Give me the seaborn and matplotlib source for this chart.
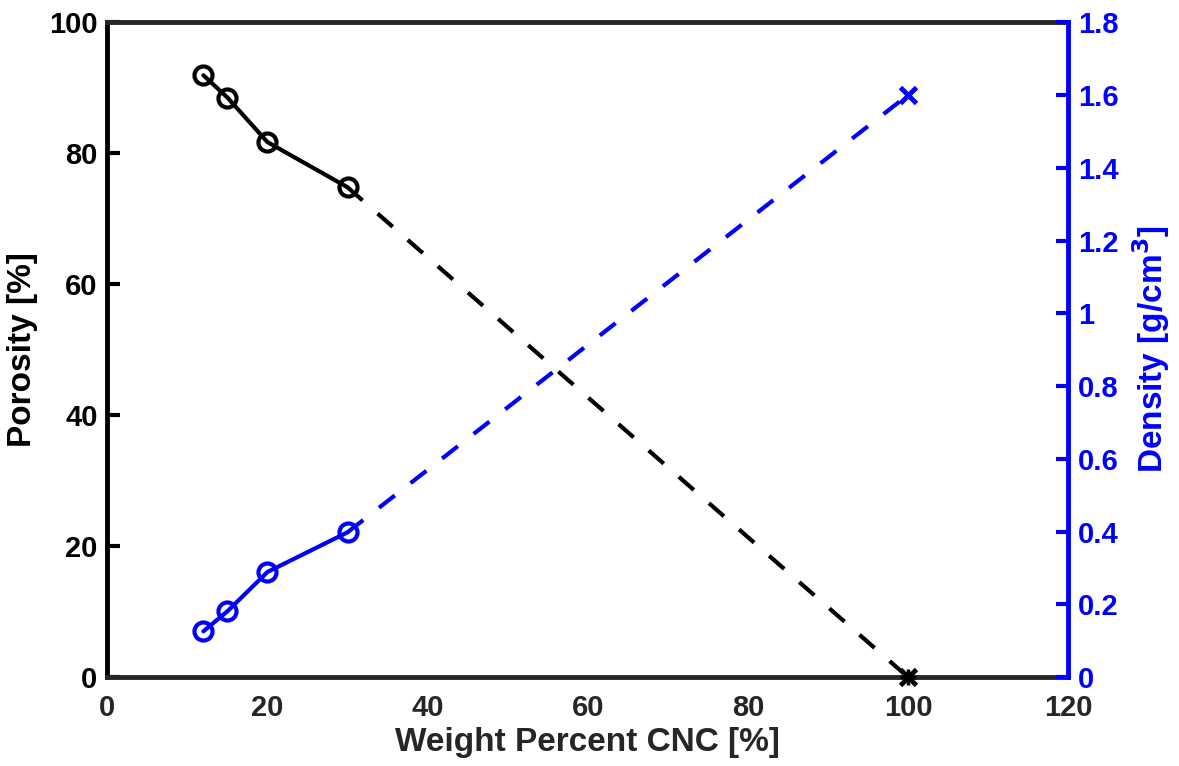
import matplotlib
matplotlib.use("Agg")
import matplotlib.pyplot as plt
import seaborn as sns
import pandas as pd

sns.set_style("white")
plt.rcParams['font.family'] = ['Liberation Sans', 'DejaVu Sans']
plt.rcParams['font.weight'] = 'bold'

# measured points
wt_cnc = [12, 15, 20, 30]
porosity = [91.9, 88.5, 81.7, 74.8]
density = [0.126, 0.181, 0.289, 0.398]

# pure CNC extrapolation
wt_pure = [30, 100]
porosity_pure = [74.8, 0]
density_pure = [0.398, 1.6]

x_ticks = [0, 20, 40, 60, 80, 100, 120]
left_ticks = [0, 20, 40, 60, 80, 100]
right_ticks = [0, 0.2, 0.4, 0.6, 0.8, 1, 1.2, 1.4, 1.6, 1.8]

BLUE = '#0000ff'
GRAY = '#262626'
LW = 3
DASH = (4.8, 4.8)

df = pd.DataFrame({'wt': wt_cnc, 'porosity': porosity, 'density': density})
df_pure = pd.DataFrame({'wt': wt_pure, 'porosity': porosity_pure,
                        'density': density_pure})

fig = plt.figure(figsize=(11.79, 7.66), dpi=100)
ax = fig.add_axes([0.091, 0.116, 0.815, 0.855])
ax2 = ax.twinx()

# porosity (left axis)
sns.lineplot(data=df_pure, x='wt', y='porosity', ax=ax, color='black',
             lw=LW, linestyle=(0, DASH))
sns.lineplot(data=df, x='wt', y='porosity', ax=ax, color='black', lw=LW,
             marker='o', markersize=13, markerfacecolor='none',
             markeredgecolor='black', markeredgewidth=3)
ax.plot([100], [0], marker='x', color='black', markersize=11,
        markeredgewidth=3.5, clip_on=False, zorder=5)
ax.plot([100], [0], marker='+', color='black', markersize=11,
        markeredgewidth=2.5, clip_on=False, zorder=5)

# density (right axis)
sns.lineplot(data=df_pure, x='wt', y='density', ax=ax2, color=BLUE,
             lw=LW, linestyle=(0, DASH))
sns.lineplot(data=df, x='wt', y='density', ax=ax2, color=BLUE, lw=LW,
             marker='o', markersize=13, markerfacecolor='none',
             markeredgecolor=BLUE, markeredgewidth=3)
ax2.plot([100], [1.6], marker='x', color=BLUE, markersize=12,
         markeredgewidth=3.5, zorder=5)

ax.set_xlim(0, 120)
ax.set_ylim(0, 100)
ax2.set_ylim(0, 1.8)
ax.set_xticks(x_ticks)
ax.set_yticks(left_ticks)
ax2.set_yticks(right_ticks)
ax2.set_yticklabels([f'{t:g}' for t in right_ticks])

ax.set_xlabel('Weight Percent CNC [%]', fontsize=24, fontweight='bold',
              color=GRAY, labelpad=4)
ax.set_ylabel('Porosity [%]', fontsize=24, fontweight='bold',
              color='black', labelpad=8)
ax2.set_ylabel('Density [g/cm$^\\mathbf{3}$]', fontsize=24,
               fontweight='bold', color=BLUE, labelpad=8)

ax.tick_params(axis='x', direction='in', length=9, width=3,
               labelsize=21, colors=GRAY, pad=12, top=False)
ax.tick_params(axis='y', direction='in', length=9, width=3,
               labelsize=21, colors='black', pad=7, right=False)
ax2.tick_params(axis='y', direction='in', length=9, width=3,
                labelsize=21, colors=BLUE, pad=7)

ax.spines['left'].set_linewidth(3.5)
ax.spines['left'].set_color('black')
for sp in ['bottom', 'top']:
    ax.spines[sp].set_linewidth(3.5)
    ax.spines[sp].set_color(GRAY)
ax.spines['right'].set_visible(False)
for sp in ['left', 'bottom', 'top']:
    ax2.spines[sp].set_visible(False)
ax2.spines['right'].set_linewidth(3.5)
ax2.spines['right'].set_color(BLUE)

fig.savefig('out.png', dpi=100)
